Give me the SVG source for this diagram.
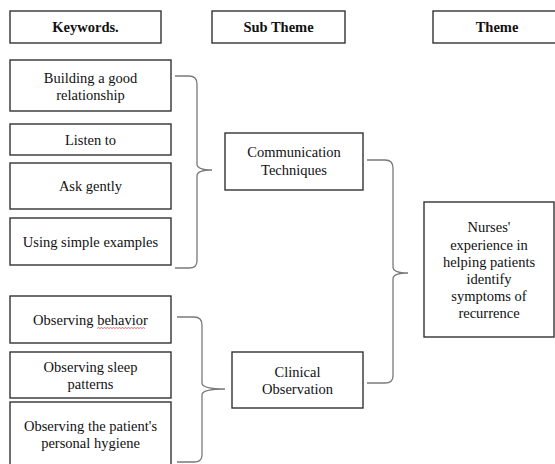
<svg xmlns="http://www.w3.org/2000/svg" width="555" height="464" viewBox="0 0 555 464">
  <style>
    .box { fill: #fff; stroke: #333; stroke-width: 1.4; }
    .txt { font-family: "Liberation Serif", "Times New Roman", serif; font-size: 14.5px; fill: #111; text-anchor: middle; }
    .hdr { font-weight: bold; }
    .brace { fill: none; stroke: #7a7a7a; stroke-width: 1.3; }
  </style>
  <rect width="555" height="464" fill="#fff"/>

  <!-- column headers -->
  <g id="hdr-keywords">
    <rect class="box" x="10" y="11" width="151" height="32"/>
    <text class="txt hdr" x="85.5" y="32">Keywords.</text>
  </g>
  <g id="hdr-subtheme">
    <rect class="box" x="212" y="11" width="133" height="32"/>
    <text class="txt hdr" x="278.5" y="32">Sub Theme</text>
  </g>
  <g id="hdr-theme">
    <rect class="box" x="433" y="11" width="128" height="32"/>
    <text class="txt hdr" x="497" y="32">Theme</text>
  </g>

  <!-- keywords -->
  <g id="kw-relationship">
    <rect class="box" x="10" y="60" width="161" height="51"/>
    <text class="txt" x="90.5" y="83">Building a good</text>
    <text class="txt" x="90.5" y="100">relationship</text>
  </g>
  <g id="kw-listen">
    <rect class="box" x="10" y="124" width="161" height="31"/>
    <text class="txt" x="90.5" y="144.5">Listen to</text>
  </g>
  <g id="kw-ask">
    <rect class="box" x="10" y="163" width="161" height="46"/>
    <text class="txt" x="90.5" y="191">Ask gently</text>
  </g>
  <g id="kw-examples">
    <rect class="box" x="10" y="218" width="161" height="47"/>
    <text class="txt" x="90.5" y="247">Using simple examples</text>
  </g>
  <g id="kw-behavior">
    <rect class="box" x="10" y="296" width="161" height="47"/>
    <text class="txt" x="90.5" y="324.5">Observing behavior</text>
    <path d="M97,328.5 l1.5,-1 l1.5,1 l1.5,-1 l1.5,1 l1.5,-1 l1.5,1 l1.5,-1 l1.5,1 l1.5,-1 l1.5,1 l1.5,-1 l1.5,1 l1.5,-1 l1.5,1 l1.5,-1 l1.5,1 l1.5,-1 l1.5,1 l1.5,-1 l1.5,1 l1.5,-1 l1.5,1 l1.5,-1 l1.5,1 l1.5,-1 l1.5,1 l1.5,-1 l1.5,1 l1.5,-1 l1.5,1 l1.5,-1 l1.5,1" fill="none" stroke="#e04848" stroke-width="0.8"/>
  </g>
  <g id="kw-sleep">
    <rect class="box" x="10" y="352" width="161" height="46"/>
    <text class="txt" x="90.5" y="372">Observing sleep</text>
    <text class="txt" x="90.5" y="389">patterns</text>
  </g>
  <g id="kw-hygiene">
    <rect class="box" x="10" y="402" width="161" height="70"/>
    <text class="txt" x="90.5" y="431">Observing the patient's</text>
    <text class="txt" x="90.5" y="448">personal hygiene</text>
  </g>

  <!-- sub themes -->
  <g id="sub-communication">
    <rect class="box" x="225" y="133" width="138" height="57"/>
    <text class="txt" x="294" y="157">Communication</text>
    <text class="txt" x="294" y="175">Techniques</text>
  </g>
  <g id="sub-clinical">
    <rect class="box" x="232" y="352" width="131" height="56"/>
    <text class="txt" x="297.5" y="377">Clinical</text>
    <text class="txt" x="297.5" y="394">Observation</text>
  </g>

  <!-- theme -->
  <g id="theme-main">
    <rect class="box" x="424" y="202" width="130" height="135"/>
    <text class="txt" x="489" y="232">Nurses'</text>
    <text class="txt" x="489" y="250">experience in</text>
    <text class="txt" x="489" y="267">helping patients</text>
    <text class="txt" x="489" y="284">identify</text>
    <text class="txt" x="489" y="301">symptoms of</text>
    <text class="txt" x="489" y="318">recurrence</text>
  </g>

  <!-- grouping braces -->
  <g id="connectors">
    <path class="brace" d="M175,76 H189 Q197,76 197,84 V164 Q197,170 212,170 Q197,170 197,176 V261 Q197,268 189,268 H175"/>
    <path class="brace" d="M177,317 H194 Q202,317 202,325 V383 Q202,389 225,389 Q202,389 202,395 V455 Q202,462 194,462 H177"/>
    <path class="brace" d="M367,160 H385 Q393,160 393,168 V267 Q393,273 408,273 Q393,273 393,279 V376 Q393,383 385,383 H367"/>
  </g>
</svg>
